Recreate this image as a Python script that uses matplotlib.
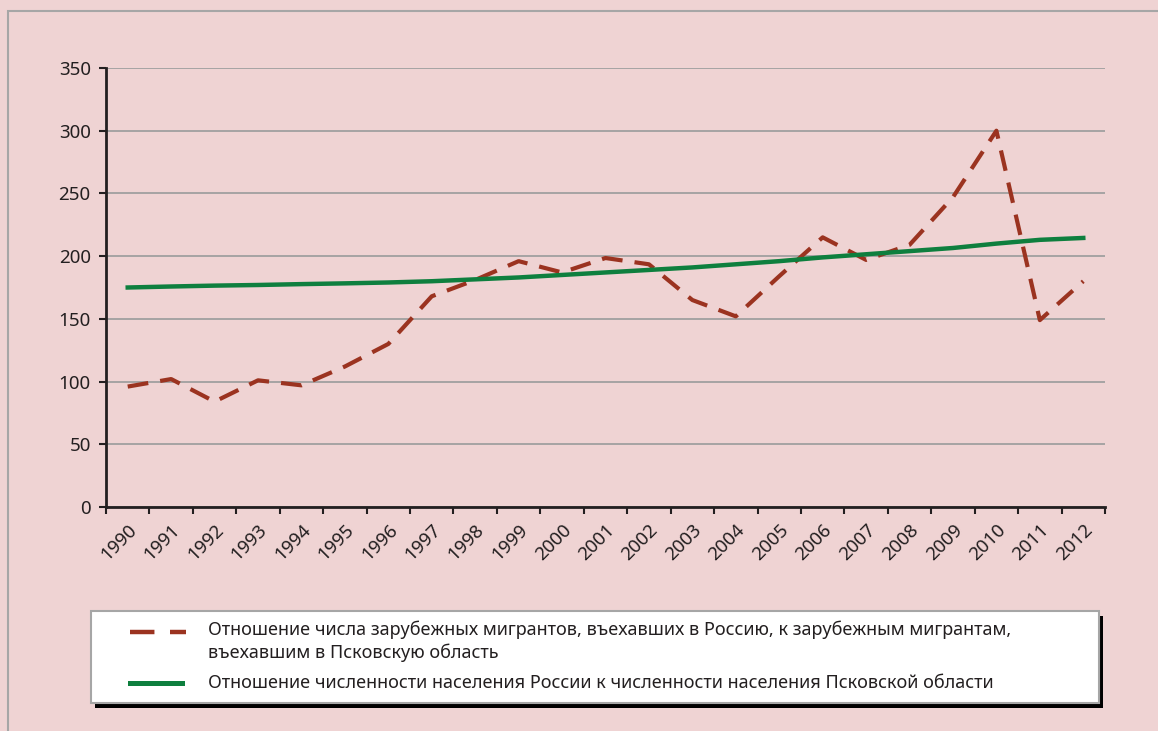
import matplotlib.pyplot as plt
from matplotlib.patches import Rectangle
from matplotlib.lines import Line2D
import numpy as np

plt.rcParams['font.family'] = ['Noto Sans', 'DejaVu Sans']

# Data
years = [str(y) for y in range(1990, 2013)]
migrants_ratio = [96, 102, 84, 101, 97, 112, 130, 168, 181, 196, 187, 198.5,
                  193.5, 165, 152, 184, 215, 197, 209, 247, 300, 149, 180]
population_ratio = [175, 175.8, 176.5, 177, 177.7, 178.3, 179, 180, 181.5, 183,
                    185, 187, 189, 191, 193.5, 196, 199, 201.5, 204, 206.5, 210,
                    213, 214.5]
label_migrants = ('Отношение числа зарубежных мигрантов, въехавших в Россию, к зарубежным мигрантам,\n'
                  'въехавшим в Псковскую область')
label_population = 'Отношение численности населения России к численности населения Псковской области'

bg = '#EFD3D3'
red = '#9B3320'
green = '#0E7F3E'
text_col = '#231F20'

W, H = 1158, 731
fig = plt.figure(figsize=(W / 100, H / 100), dpi=100)
fig.patch.set_facecolor(bg)

# outer frame
fig.patches.append(Rectangle((8 / W, -0.1), 1.2, 1.1 - 11 / H, transform=fig.transFigure,
                             fill=False, edgecolor='#A6A6A6', linewidth=1.5))

ax = fig.add_axes([106 / W, (H - 507) / H, 999 / W, 439 / H])
ax.set_facecolor(bg)

x = np.arange(len(years))
ax.plot(x, migrants_ratio, color=red, linewidth=3.0, linestyle=(0, (5.0, 2.9)),
        dash_capstyle='butt', zorder=3)
ax.plot(x, population_ratio, color=green, linewidth=3.2, zorder=4)

ax.set_xlim(-0.5, len(years) - 0.5)
ax.set_ylim(0, 350)
ax.set_yticks(np.arange(0, 351, 50))
ax.yaxis.grid(True, color='#A0A0A0', linewidth=1.3)
ax.set_axisbelow(True)

# category boundaries as tick marks, labels at category centres
ax.set_xticks(np.arange(-0.5, len(years), 1))
ax.set_xticklabels([])
ax.set_xticks(x, minor=True)
ax.set_xticklabels(years, minor=True, rotation=45, ha='right', va='top',
                   rotation_mode='anchor', fontsize=13.5, color=text_col)
ax.tick_params(axis='x', which='minor', length=0, pad=10)
ax.tick_params(axis='x', which='major', length=5, width=1.5, color=text_col)
ax.tick_params(axis='y', length=5, width=1.5, color=text_col, labelsize=13.5,
               labelcolor=text_col, pad=6)

for s in ['top', 'right']:
    ax.spines[s].set_visible(False)
for s in ['left', 'bottom']:
    ax.spines[s].set_color(text_col)
    ax.spines[s].set_linewidth(2)

# legend box with shadow
lx0, ly0, lx1, ly1 = 91, 611, 1099, 703
fig.patches.append(Rectangle(((lx0 + 4) / W, (H - ly1 - 5) / H), (lx1 - lx0) / W,
                             (ly1 - ly0) / H, transform=fig.transFigure,
                             facecolor='black', edgecolor='none', zorder=1))
fig.patches.append(Rectangle((lx0 / W, (H - ly1) / H), (lx1 - lx0) / W,
                             (ly1 - ly0) / H, transform=fig.transFigure,
                             facecolor='white', edgecolor='#A6A6A6', linewidth=1.5,
                             zorder=2))
fig.lines.append(Line2D([130 / W, 186 / W], [(H - 632) / H] * 2, transform=fig.transFigure,
                        color=red, linewidth=3.2, linestyle=(0, (5.5, 3.5)), zorder=3))
fig.lines.append(Line2D([130 / W, 182 / W], [(H - 683) / H] * 2, transform=fig.transFigure,
                        color=green, linewidth=3.6, zorder=3))
fig.text(208 / W, (H - 621) / H, label_migrants, fontsize=13, color=text_col,
         va='top', ha='left', linespacing=1.25, zorder=4)
fig.text(208 / W, (H - 683) / H, label_population, fontsize=13, color=text_col,
         va='center', ha='left', zorder=4)

plt.savefig('out.png', dpi=100, facecolor=bg)
